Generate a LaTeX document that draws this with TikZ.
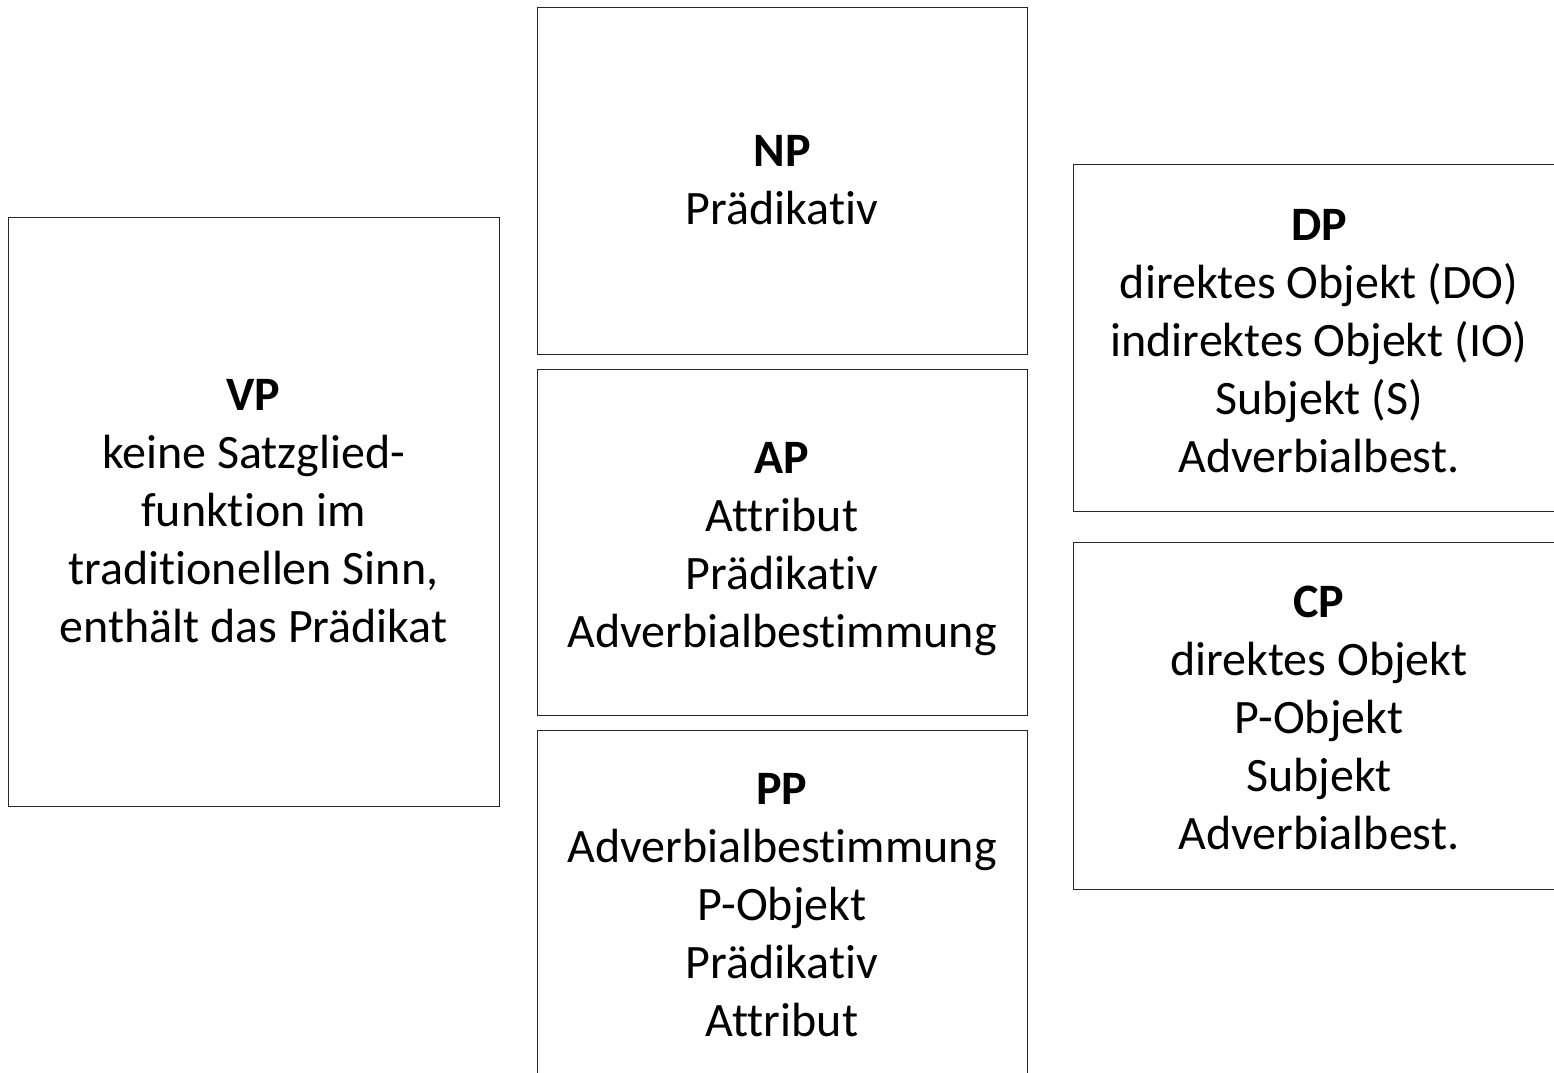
\documentclass[tikz,border=0pt]{standalone}
\usepackage{fontspec}
\setmainfont{Carlito}[RawFeature={-liga;-clig;-dlig}]
\begin{document}
\begin{tikzpicture}[x=1pt,y=-1pt,
  phrasebox/.style={draw=black!85, line width=1pt, inner sep=0pt},
  phrasetext/.style={align=center, inner sep=0pt,
    font=\fontsize{48}{58}\selectfont}]
\useasboundingbox (0,0) rectangle (1554,1072);
% frames
\node[phrasebox, minimum width=491pt, minimum height=589pt] (vp) at (253.5,511.5) {};
\node[phrasebox, minimum width=490pt, minimum height=347pt] (np) at (782,180.5) {};
\node[phrasebox, minimum width=490pt, minimum height=346pt] (ap) at (782,542) {};
\node[phrasebox, minimum width=490pt, minimum height=350pt] (pp) at (782,905) {};
\node[phrasebox, minimum width=492pt, minimum height=347pt] (dp) at (1319,337.5) {};
\node[phrasebox, minimum width=492pt, minimum height=347pt] (cp) at (1319,715.5) {};
% contents
\node[phrasetext] (vptext) at (vp.center)
  {\textbf{VP}\\keine Satzglied-\\funktion im\\traditionellen Sinn,\\enthält das Prädikat};
\node[phrasetext] (nptext) at (np.center)
  {\textbf{NP}\\Prädikativ};
\node[phrasetext] (aptext) at ([yshift=-7pt]ap.center)
  {\textbf{AP}\\Attribut\\Prädikativ\\Adverbialbestimmung};
\node[phrasetext] (pptext) at (pp.center)
  {\textbf{PP}\\Adverbialbestimmung\\P-Objekt\\Prädikativ\\Attribut};
\node[phrasetext] (dptext) at ([yshift=-4pt]dp.center)
  {\textbf{DP}\\direktes Objekt (DO)\\indirektes Objekt (IO)\\Subjekt (S)\\Adverbialbest.};
\node[phrasetext] (cptext) at ([yshift=-2pt]cp.center)
  {\textbf{CP}\\direktes Objekt\\P-Objekt\\Subjekt\\Adverbialbest.};
\end{tikzpicture}
\end{document}
